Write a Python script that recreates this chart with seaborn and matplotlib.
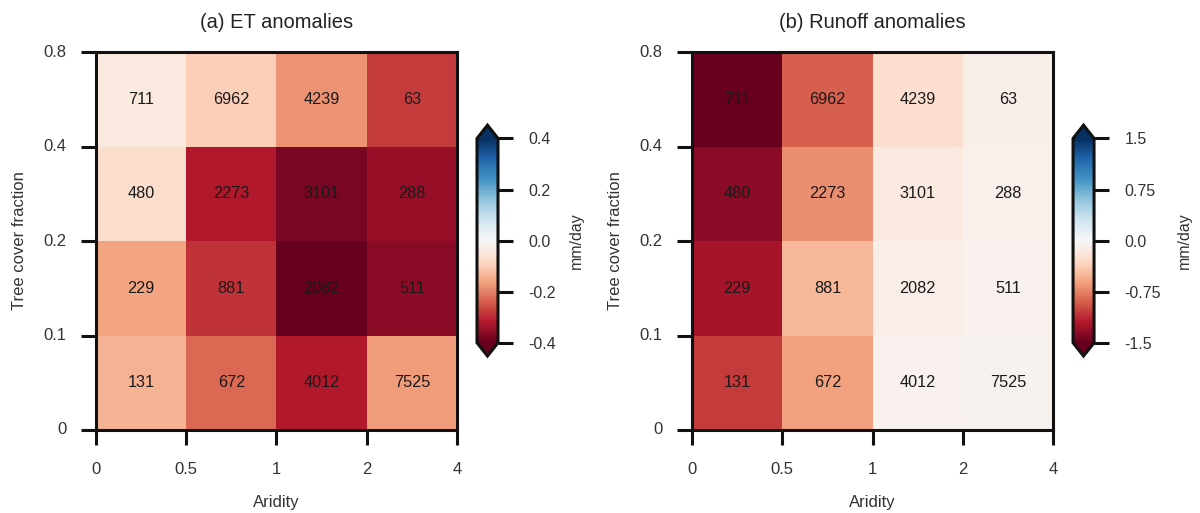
import numpy as np
import pandas as pd
import seaborn as sns
import matplotlib
matplotlib.use("Agg")
import matplotlib.pyplot as plt

sns.set_style("white")
plt.rcParams["font.family"] = ["Liberation Sans", "DejaVu Sans"]

# Bin edges
aridity_edges = ["0", "0.5", "1", "2", "4"]
tree_edges_top_down = ["0.8", "0.4", "0.2", "0.1", "0"]

# Number of grid cells per bin (rows: tree cover 0.4-0.8, 0.2-0.4, 0.1-0.2, 0-0.1)
counts = [
    [711, 6962, 4239, 63],
    [480, 2273, 3101, 288],
    [229, 881, 2082, 511],
    [131, 672, 4012, 7525],
]

# Mean anomalies (mm/day)
et_anom = [
    [-0.04, -0.10, -0.18, -0.28],
    [-0.07, -0.32, -0.38, -0.35],
    [-0.16, -0.29, -0.40, -0.36],
    [-0.14, -0.23, -0.32, -0.17],
]
runoff_anom = [
    [-1.50, -0.90, -0.25, -0.09],
    [-1.35, -0.70, -0.15, -0.08],
    [-1.25, -0.50, -0.10, -0.07],
    [-1.05, -0.62, -0.06, -0.05],
]

et_ticks = [0.4, 0.2, 0.0, -0.2, -0.4]
et_ticklabels = ["0.4", "0.2", "0.0", "-0.2", "-0.4"]
runoff_ticks = [1.5, 0.75, 0.0, -0.75, -1.5]
runoff_ticklabels = ["1.5", "0.75", "0.0", "-0.75", "-1.5"]

panels = [
    ("(a) ET anomalies", et_anom, 0.4, et_ticks, et_ticklabels),
    ("(b) Runoff anomalies", runoff_anom, 1.5, runoff_ticks, runoff_ticklabels),
]

fig = plt.figure(figsize=(12, 5.13), dpi=100)
ax_pos = [[0.080, 0.1618, 0.3008, 0.7368], [0.5767, 0.1618, 0.3008, 0.7368]]
# colour bar boxes include the end triangles
cb_pos = [[0.3975, 0.306, 0.0175, 0.450], [0.8942, 0.306, 0.0175, 0.450]]
cb_label_x = [4.4, 4.95]

text_dark = "#333333"

for (title, vals, vlim, cticks, clabels), apos, cpos, lx in zip(
        panels, ax_pos, cb_pos, cb_label_x):
    ax = fig.add_axes(apos)
    cax = fig.add_axes(cpos)
    df = pd.DataFrame(vals)
    sns.heatmap(df, ax=ax, cbar_ax=cax, cmap="RdBu", vmin=-vlim, vmax=vlim,
                annot=np.array(counts), fmt="d",
                annot_kws={"color": "#1a1a1a", "fontsize": 11.7},
                cbar_kws={"extend": "both", "extendfrac": 0.065})
    ax.set_xticks(np.arange(5))
    ax.set_xticklabels(aridity_edges, rotation=0, fontsize=12)
    ax.set_yticks(np.arange(5))
    ax.set_yticklabels(tree_edges_top_down, rotation=0, fontsize=12)
    ax.tick_params(axis="both", bottom=True, left=True, length=11, width=2.2,
                   color="#111111", direction="out", labelcolor=text_dark)
    ax.tick_params(axis="x", pad=12)
    ax.tick_params(axis="y", pad=10)
    for s in ax.spines.values():
        s.set_visible(True)
        s.set_linewidth(2.2)
        s.set_color("#111111")
    ax.set_title(title, fontsize=14.5, pad=17, color="#222222")
    ax.set_xlabel("Aridity", fontsize=12, labelpad=13, color=text_dark)
    ax.set_ylabel("Tree cover fraction", fontsize=12, labelpad=12, color=text_dark)

    cb = ax.collections[0].colorbar
    cb.set_ticks(cticks)
    cb.set_ticklabels(clabels)
    cb.outline.set_linewidth(2.2)
    cb.outline.set_edgecolor("#111111")
    cax.tick_params(right=True, length=11, width=2.2, color="#111111",
                    labelsize=11.5, pad=11, labelcolor=text_dark)
    cb.set_label("mm/day", fontsize=11.5, color=text_dark)
    cax.yaxis.set_label_coords(lx, 0.5)

fig.savefig("out.png", dpi=100)
